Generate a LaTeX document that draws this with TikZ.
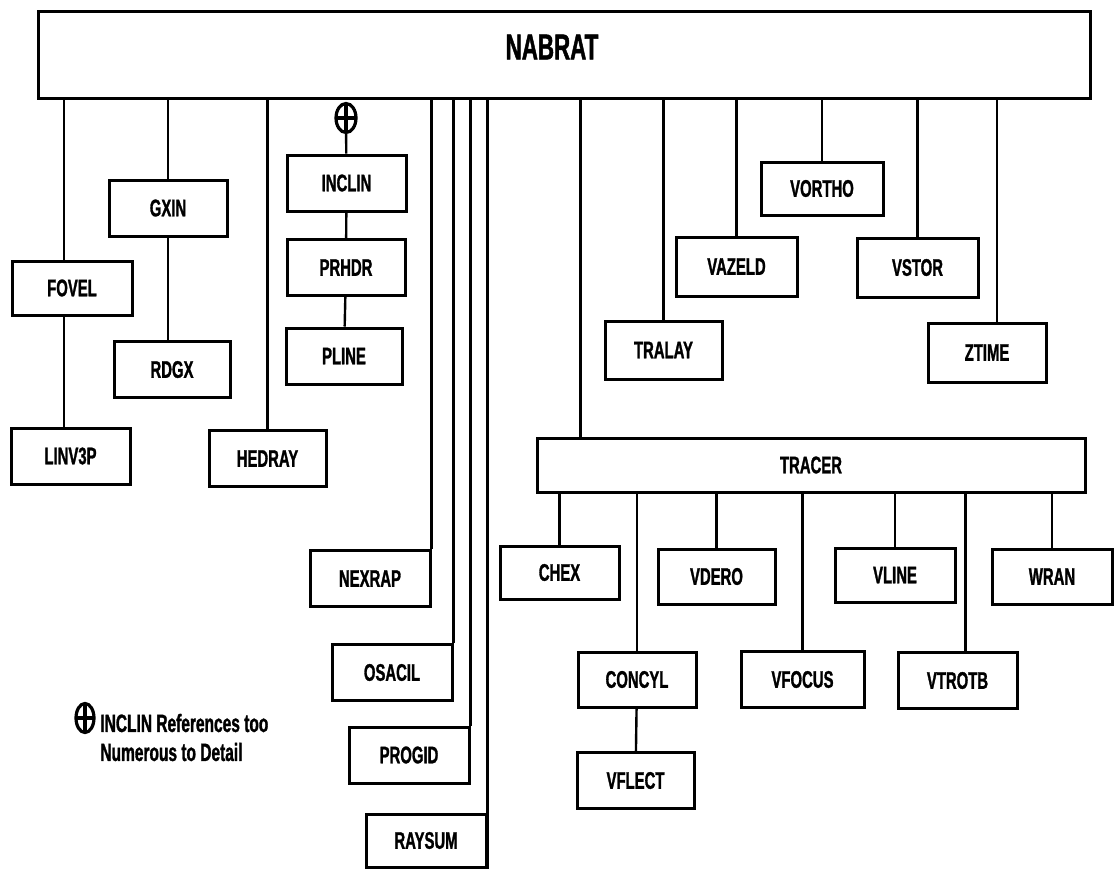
\documentclass[tikz,border=0pt]{standalone}
\usepackage{fontspec}
\newfontfamily\chartfont{Liberation Sans}[FakeStretch=0.62,FakeBold=1.2]
\usetikzlibrary{shapes.geometric}

\tikzset{
  modbox/.style={draw,line width=1.5pt,minimum width=59.5pt,minimum height=28pt,inner sep=0pt,
    font=\chartfont\bfseries\fontsize{12}{14}\selectfont},
  link/.style={line width=1.2pt},
  xref/.style={draw,ellipse,line width=1.6pt,inner sep=0pt,minimum width=10pt,minimum height=14.5pt,
    path picture={\draw[line width=1.6pt] (path picture bounding box.north) -- (path picture bounding box.south)
      (path picture bounding box.west) -- (path picture bounding box.east);}}
}

\begin{document}
\begin{tikzpicture}[x=0.5pt,y=-0.5pt]
\fill[white] (0,0) rectangle (1114,869);

% top level
\node[modbox,minimum width=526pt,minimum height=43.5pt,
  label={[font=\chartfont\bfseries\fontsize{18}{18}\selectfont,xshift=-6pt,yshift=3.75pt]center:NABRAT}] (nabrat) at (564,54.5) {};

% left branches
\node[modbox,minimum width=60pt,minimum height=27pt] (fovel) at (72,288) {FOVEL};
\node[modbox,minimum height=28pt] (liny3p) at (70.5,456) {LINV3P};
\node[modbox,minimum width=59pt] (gxin) at (168,208) {GXIN};
\node[modbox,minimum width=58pt] (rdgx) at (172,369.5) {RDGX};
\node[modbox,minimum width=58.5pt] (hedray) at (267.5,458.5) {HEDRAY};

\node[xref] (inclinref) at (346,118) {};
\node[modbox] (inclin) at (346.5,183) {INCLIN};
\node[modbox,minimum width=59pt] (prhdr) at (346,267.5) {PRHDR};
\node[modbox,minimum width=58pt] (pline) at (344,356) {PLINE};

\node[modbox,minimum width=60pt] (nexrap) at (370,578.5) {NEXRAP};
\node[modbox,minimum width=60pt] (osacil) at (392,672.5) {OSACIL};
\node[modbox,minimum width=60pt] (progid) at (409,755) {PROGID};
\node[modbox,minimum width=60pt,minimum height=26.5pt] (raysum) at (426,840.5) {RAYSUM};

% right branches
\node[modbox,minimum width=58.5pt,minimum height=29pt] (tralay) at (663.5,350) {TRALAY};
\node[modbox,minimum width=60.5pt,minimum height=29.5pt] (vazeld) at (736.5,266.5) {VAZELD};
\node[modbox,minimum width=61pt,minimum height=26.5pt] (vortho) at (822,188.5) {VORTHO};
\node[modbox,minimum width=60.5pt,minimum height=29.5pt] (vstor) at (917.5,267.5) {VSTOR};
\node[modbox,minimum width=59pt,minimum height=29.5pt] (ztime) at (987,352.5) {ZTIME};

% tracer group
\node[modbox,minimum width=274pt,minimum height=27pt] (tracer) at (811,465) {TRACER};
\node[modbox,minimum height=26.5pt] (chex) at (559.5,572.5) {CHEX};
\node[modbox,minimum width=58.5pt,minimum height=27.5pt] (vdero) at (716.5,576.5) {VDERO};
\node[modbox,minimum width=60pt,minimum height=27pt] (vline) at (895,575) {VLINE};
\node[modbox,minimum width=60pt,minimum height=27.5pt] (wran) at (1052,576.5) {WRAN};
\node[modbox,minimum width=59pt,minimum height=27.5pt] (concyl) at (637,679.5) {CONCYL};
\node[modbox,minimum width=61.5pt] (vfocus) at (802.5,679.5) {VFOCUS};
\node[modbox] (vtrotb) at (957.5,680.5) {VTROTB};
\node[modbox,minimum width=58.5pt] (vflect) at (635.5,780.5) {VFLECT};

% footnote
\node[xref,minimum width=9pt,minimum height=14.5pt] (noteref) at (85,718) {};
\node[anchor=west,align=left,inner sep=0pt,font=\chartfont\bfseries\fontsize{12.5}{14.5}\selectfont] (note) at (100,737.5)
  {INCLIN References too\\Numerous to Detail};

% connectors
\foreach \kid in {gxin,hedray,tralay,vazeld,vortho,vstor}
  \draw[link] (\kid.north) -- (\kid.north |- nabrat.south);
\draw[link] ([xshift=-4pt]fovel.north) -- ([xshift=-4pt]fovel.north |- nabrat.south);
\draw[link] ([xshift=-4pt]fovel.south) -- ([xshift=-4pt]fovel.south |- liny3p.north);
\draw[link] (gxin.south) -- (gxin.south |- rdgx.north);
\draw[link] ([xshift=5pt]ztime.north) -- ([xshift=5pt]ztime.north |- nabrat.south);
\draw[link] ([xshift=22.5pt]tracer.north west) -- ([xshift=22.5pt]tracer.north west |- nabrat.south);

\draw[link] (inclinref) -- (inclin);
\draw[link] (inclin) -- (prhdr);
\draw[link] (prhdr) -- (pline);

\foreach \kid in {nexrap,osacil,progid}
  \draw[link] (\kid.north east) -- (\kid.north east |- nabrat.south);
\draw[link] (raysum.south east) -- (raysum.north east |- nabrat.south);

\foreach \kid in {chex,concyl,vdero,vfocus,vline,wran}
  \draw[link] (\kid.north) -- (\kid.north |- tracer.south);
\draw[link] ([xshift=4pt]vtrotb.north) -- ([xshift=4pt]vtrotb.north |- tracer.south);
\draw[link] (concyl) -- (vflect);
\end{tikzpicture}
\end{document}
